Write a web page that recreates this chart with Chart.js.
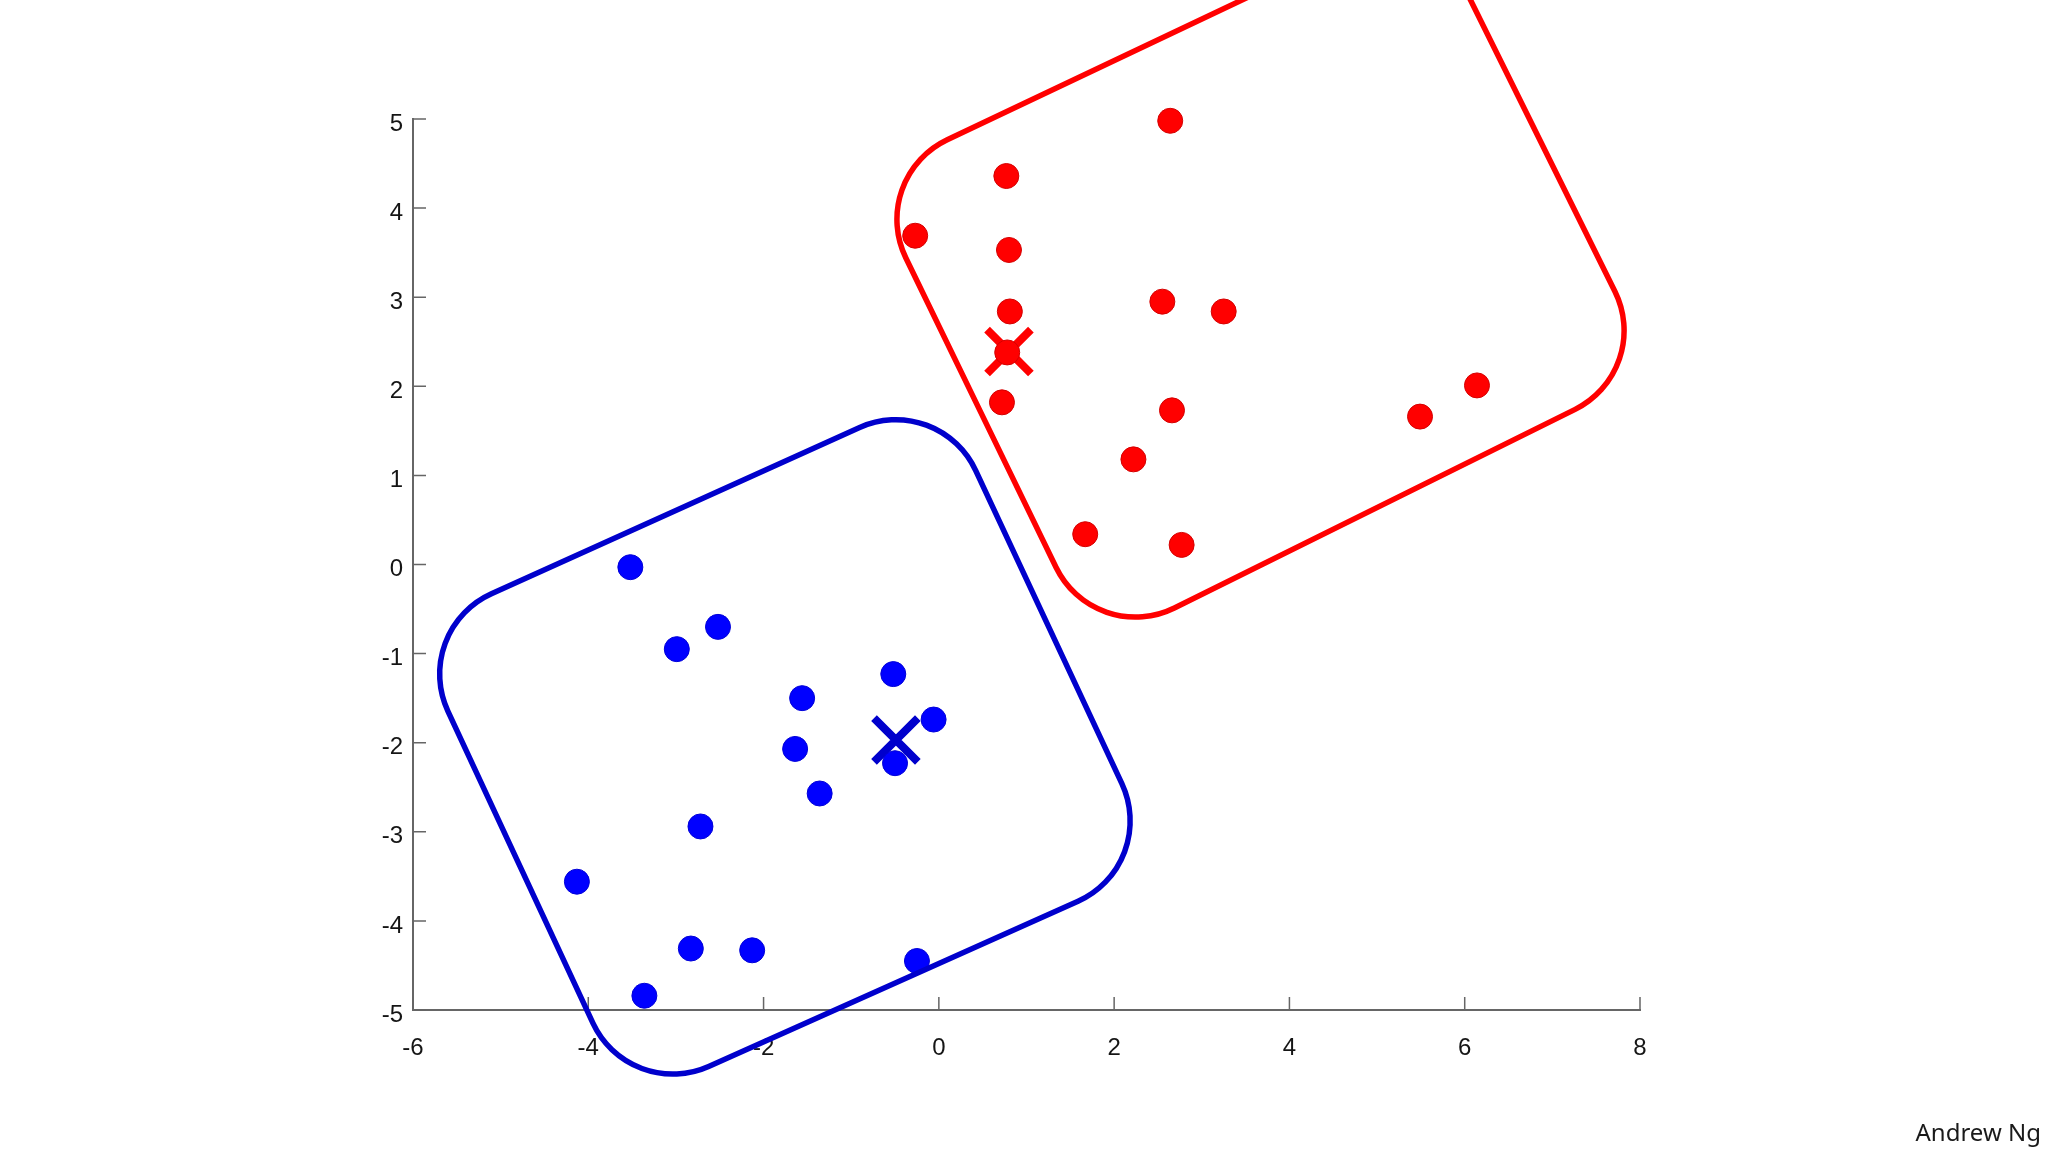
<!DOCTYPE html>
<html>
<head>
<meta charset="utf-8">
<script src="https://cdn.jsdelivr.net/npm/chart.js@4/dist/chart.umd.min.js"></script>
<style>
  html, body { margin: 0; padding: 0; background: #fff; }
  #wrap { position: relative; width: 2048px; height: 1152px; }
  #credit { position: absolute; right: 7px; top: 1120px; font-family: "Noto Sans", sans-serif; font-size: 24px; line-height: 23px; color: #1a1a1a; }
</style>
</head>
<body>
<div id="wrap">
  <canvas id="myChart" width="2048" height="1152"></canvas>
  <div id="credit">Andrew Ng</div>
</div>
<script>
// cluster 1 (red)
const redX = [2.64, 0.77, -0.27, 0.80, 0.81, 2.55, 3.25, 0.72, 2.66, 2.22, 1.67, 2.77, 5.49, 6.14, 0.78];
const redY = [4.98, 4.36, 3.69, 3.53, 2.84, 2.95, 2.84, 1.82, 1.73, 1.18, 0.34, 0.22, 1.66, 2.01, 2.38];
// cluster 2 (blue)
const blueX = [-3.52, -2.52, -2.99, -0.52, -1.56, -0.06, -1.64, -0.50, -1.36, -2.72, -4.13, -2.83, -2.13, -0.25, -3.36];
const blueY = [-0.03, -0.70, -0.95, -1.23, -1.50, -1.74, -2.07, -2.23, -2.57, -2.94, -3.56, -4.31, -4.33, -4.45, -4.84];
// centroids
const redCentroid = [0.80, 2.39];
const blueCentroid = [-0.49, -1.97];
// corners of the hand drawn cluster boxes
const redBoxX = [-0.82, 5.57, 8.16, 1.78];
const redBoxY = [4.34, 7.32, 2.18, -0.93];
const blueBoxX = [-6.03, 0.00, 2.52, -3.53];
const blueBoxY = [-0.74, 1.94, -3.37, -6.03];
// axes
const xTicks = [-6, -4, -2, 0, 2, 4, 6, 8];
const yTicks = [-5, -4, -3, -2, -1, 0, 1, 2, 3, 4, 5];

function toPoints(xs, ys) {
    let pts = [];
    for (let i = 0; i < xs.length; i++) {
        pts.push({x: xs[i], y: ys[i]});
    }
    return pts;
}

const innerTicks = {
    id: 'innerTicks',
    afterDraw(chart) {
        const c = chart.ctx;
        const xs = chart.scales.x;
        const ys = chart.scales.y;
        const area = chart.chartArea;
        c.save();
        c.strokeStyle = '#666';
        c.lineWidth = 1.5;
        c.beginPath();
        xTicks.forEach(v => {
            const px = xs.getPixelForValue(v);
            c.moveTo(px, area.bottom);
            c.lineTo(px, area.bottom - 13);
        });
        yTicks.forEach(v => {
            const py = ys.getPixelForValue(v);
            c.moveTo(area.left, py);
            c.lineTo(area.left + 13, py);
        });
        c.stroke();
        c.restore();
    }
};

function roundedBox(chart, bx, by, color) {
    const c = chart.ctx;
    const xs = chart.scales.x;
    const ys = chart.scales.y;
    const p = [];
    for (let i = 0; i < bx.length; i++) {
        p.push([xs.getPixelForValue(bx[i]), ys.getPixelForValue(by[i])]);
    }
    const n = p.length;
    const r = 88;
    c.save();
    c.strokeStyle = color;
    c.lineWidth = 5.5;
    c.beginPath();
    c.moveTo((p[n - 1][0] + p[0][0]) / 2, (p[n - 1][1] + p[0][1]) / 2);
    for (let i = 0; i < n; i++) {
        const a = p[i];
        const b = p[(i + 1) % n];
        c.arcTo(a[0], a[1], (a[0] + b[0]) / 2, (a[1] + b[1]) / 2, r);
    }
    c.closePath();
    c.stroke();
    c.restore();
}

const clusterBoxes = {
    id: 'clusterBoxes',
    afterDraw(chart) {
        roundedBox(chart, redBoxX, redBoxY, '#ff0000');
        roundedBox(chart, blueBoxX, blueBoxY, '#0000cc');
    }
};

const ctx = document.getElementById('myChart').getContext('2d');
const tickFont = {family: '"Liberation Sans", Arial, sans-serif', size: 24};

let myChart = new Chart(ctx, {
    type: 'scatter',
    data: {
        datasets: [{
            label: 'cluster 1',
            data: toPoints(redX, redY),
            backgroundColor: '#ff0000',
            borderColor: '#d40000',
            borderWidth: 1,
            pointRadius: 12.5,
            clip: false
        }, {
            label: 'cluster 2',
            data: toPoints(blueX, blueY),
            backgroundColor: '#0000ff',
            borderColor: '#0000d8',
            borderWidth: 1,
            pointRadius: 12.5,
            clip: false
        }, {
            label: 'centroid 1',
            data: [{x: redCentroid[0], y: redCentroid[1]}],
            pointStyle: 'crossRot',
            borderColor: '#ff0000',
            borderWidth: 8,
            pointRadius: 31,
            clip: false
        }, {
            label: 'centroid 2',
            data: [{x: blueCentroid[0], y: blueCentroid[1]}],
            pointStyle: 'crossRot',
            borderColor: '#0000cc',
            borderWidth: 8,
            pointRadius: 31,
            clip: false
        }]
    },
    options: {
        responsive: false,
        animation: false,
        devicePixelRatio: 1,
        layout: {
            autoPadding: false,
            padding: {top: 119, right: 408, bottom: 0, left: 0}
        },
        plugins: {
            legend: {display: false},
            tooltip: {enabled: false}
        },
        scales: {
            x: {
                type: 'linear',
                min: -6,
                max: 8,
                afterFit: s => { s.height = 142; },
                afterBuildTicks: s => { s.ticks = xTicks.map(v => ({value: v})); },
                border: {display: true, color: '#666', width: 2},
                grid: {display: true, drawOnChartArea: false, drawTicks: false},
                ticks: {font: tickFont, color: '#151515', padding: 24, maxRotation: 0}
            },
            y: {
                type: 'linear',
                min: -5,
                max: 5,
                afterFit: s => { s.width = 413; },
                afterBuildTicks: s => { s.ticks = yTicks.map(v => ({value: v})); },
                border: {display: true, color: '#666', width: 2},
                grid: {display: true, drawOnChartArea: false, drawTicks: false},
                ticks: {font: tickFont, color: '#151515', padding: 10, labelOffset: 5}
            }
        }
    },
    plugins: [innerTicks, clusterBoxes]
});
</script>
</body>
</html>
